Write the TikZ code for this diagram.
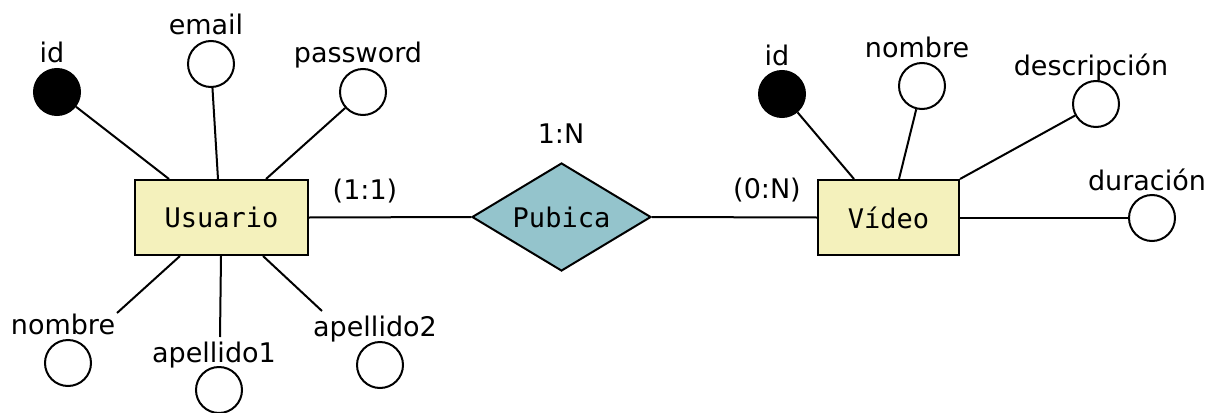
\documentclass[tikz,border=0pt]{standalone}
\usepackage{fontspec}
\setmainfont{DejaVu Sans}
\setmonofont{DejaVu Sans Mono}
\usetikzlibrary{shapes.geometric}
\definecolor{entfill}{RGB}{244,241,188}
\definecolor{relfill}{RGB}{148,196,204}
\begin{document}
\begin{tikzpicture}[x=1pt,y=-1pt,line width=2pt,
  ent/.style={draw,fill=entfill,rectangle,inner sep=0pt,font=\fontsize{27}{30}\selectfont\ttfamily},
  rel/.style={draw,fill=relfill,diamond,aspect=1.645,minimum width=179pt,minimum height=108pt,inner sep=0pt,font=\fontsize{27}{30}\selectfont\ttfamily},
  attr/.style={draw,fill=white,circle,minimum size=46pt,inner sep=0pt},
  key/.style={draw,fill=black,circle,minimum size=46pt,inner sep=0pt},
  lbl/.style={anchor=base,inner sep=0pt,font=\fontsize{27}{30}\selectfont}]
\useasboundingbox (0,0) rectangle (1214,412);
% entities and relation
\node[ent,minimum width=173pt,minimum height=75pt] (U) at (221.5,217.5) {Usuario};
\node[ent,minimum width=141pt,minimum height=75pt] (V) at (888.5,217.5) {Vídeo};
\node[rel] (R) at (561.5,217) {Pubica};
% Usuario attributes
\node[key] (uid) at (57,92) {};
\node[attr] (uemail) at (211,64) {};
\node[attr] (upass) at (363,92) {};
\node[attr] (unom) at (68,363) {};
\node[attr] (uap1) at (219,390) {};
\node[attr] (uap2) at (380,365) {};
\node[lbl] (luid) at (52,63) {id};
\node[lbl] (luemail) at (206,35) {email};
\node[lbl] (lupass) at (358,63) {password};
\node[lbl] (lunom) at (63,334) {nombre};
\node[lbl] (luap1) at (214,362) {apellido1};
\node[lbl] (luap2) at (375,336) {apellido2};
% Video attributes
\node[key] (vid) at (782,94) {};
\node[attr] (vnom) at (922,86) {};
\node[attr] (vdesc) at (1096,104) {};
\node[attr] (vdur) at (1152,218) {};
\node[lbl] (lvid) at (777,65) {id};
\node[lbl] (lvnom) at (917,58) {nombre};
\node[lbl] (lvdesc) at (1091,75) {descripción};
\node[lbl] (lvdur) at (1147,190) {duración};
% cardinalities
\node[lbl] (c11) at (365,199) {(1:1)};
\node[lbl] (c0n) at (767,198) {(0:N)};
\node[lbl] (c1n) at (561,143) {1:N};
% attachment points
\coordinate (a1) at (169,179);
\coordinate (a2) at (218,179);
\coordinate (a3) at (266,179);
\coordinate (a4) at (180,256);
\coordinate (a5) at (221,256);
\coordinate (a6) at (263,256);
\coordinate (e4) at (117,313);
\coordinate (e5) at (220,337);
\coordinate (e6) at (322,311);
\coordinate (b1) at (854,179);
\coordinate (b2) at (899,179);
\coordinate (b3) at (960,179);
\coordinate (b4) at (960,218);
% connectors
\draw (uid) -- (a1);
\draw (uemail) -- (a2);
\draw (upass) -- (a3);
\draw (a4) -- (e4);
\draw (a5) -- (e5);
\draw (a6) -- (e6);
\draw (vid) -- (b1);
\draw (vnom) -- (b2);
\draw (vdesc) -- (b3);
\draw (vdur) -- (b4);
\draw (U.east) -- (R.west);
\draw (R.east) -- (V.west);
\end{tikzpicture}
\end{document}
